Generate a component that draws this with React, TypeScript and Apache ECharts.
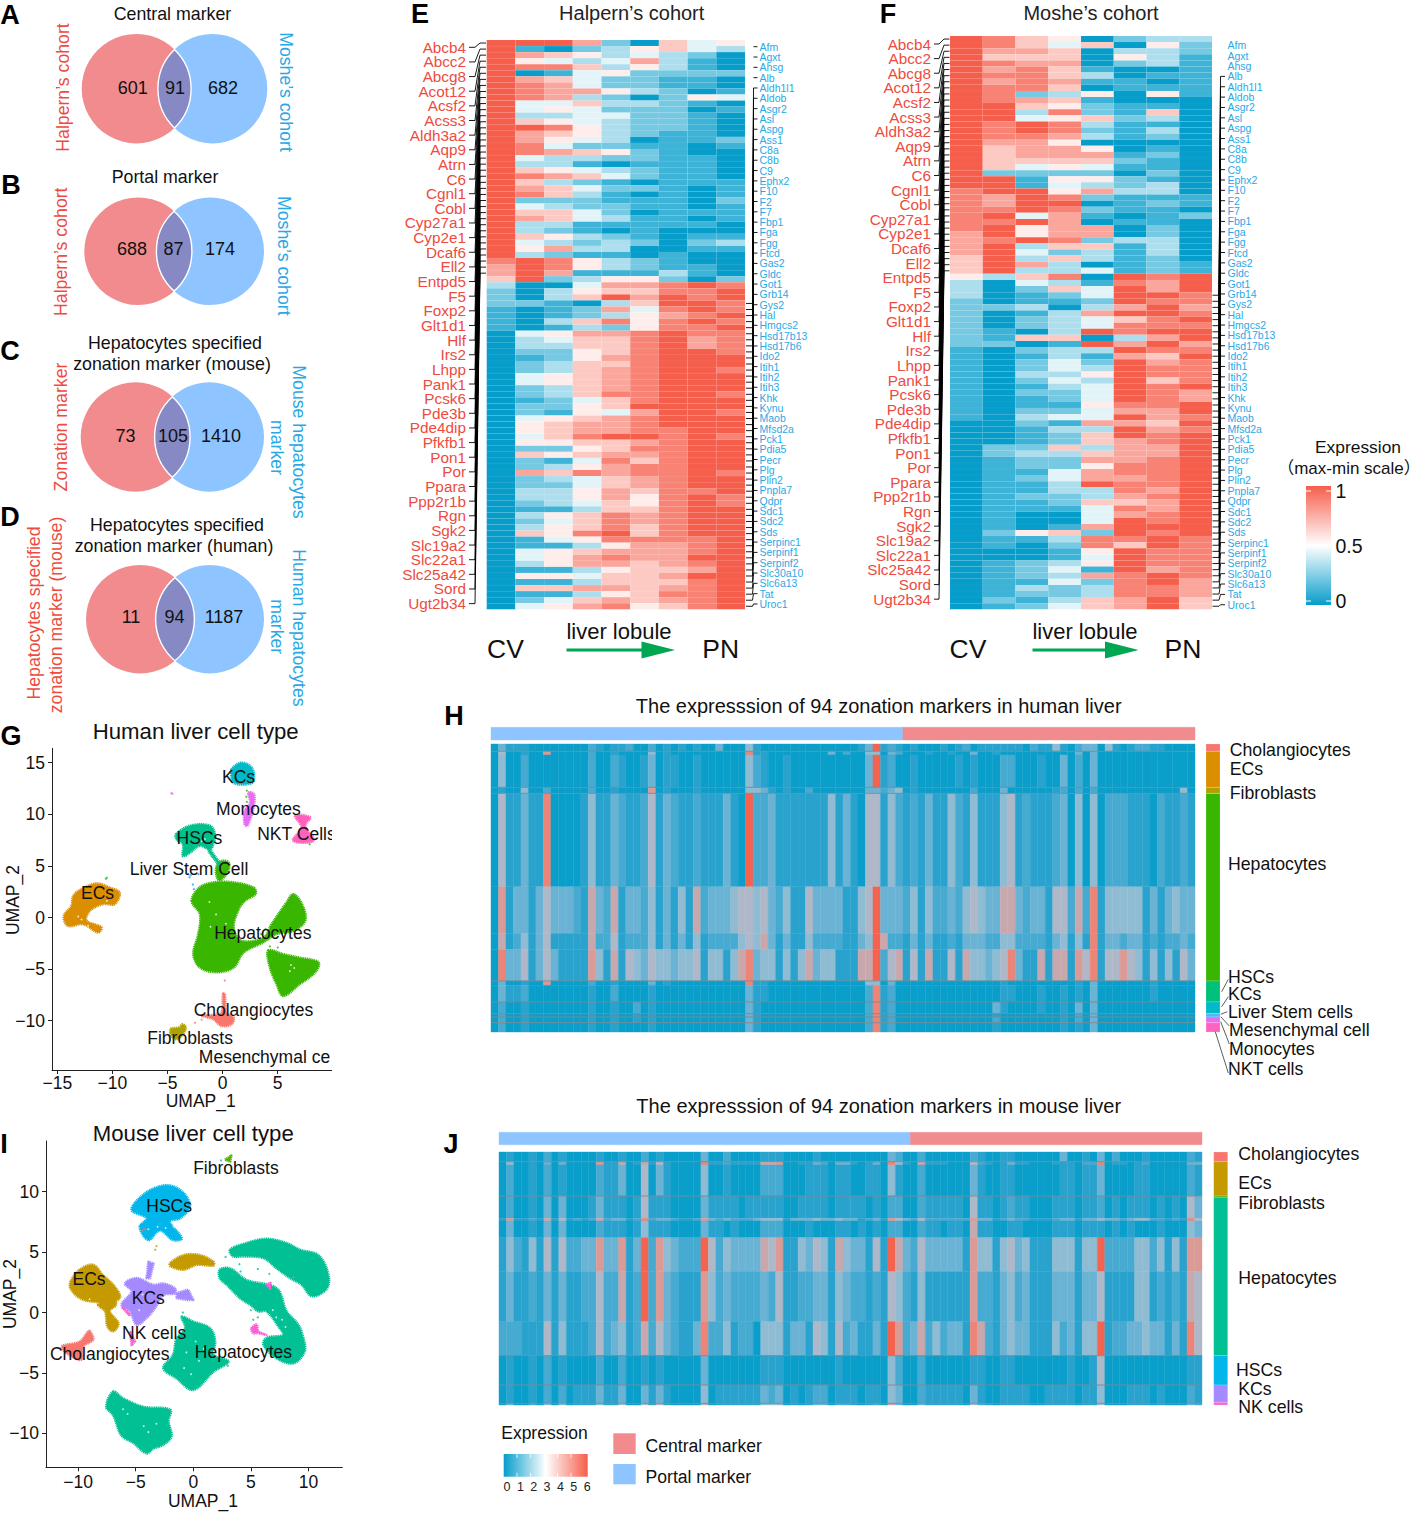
import React, { useEffect, useRef } from "react";
import * as echarts from "echarts";

const FONT = "'Liberation Sans', Arial, 'Noto Sans CJK SC', sans-serif";
const RED_TXT = "#EE4B40";
const BLUE_TXT = "#2AA8E6";
const VENN_RED = "#F28B8E";
const VENN_BLUE = "#8EC4FF";
const VENN_MID = "#8689C4";

// ---------------- Venn numbers
const vennA = ["601", "91", "682"];
const vennB = ["688", "87", "174"];
const vennC = ["73", "105", "1410"];
const vennD = ["11", "94", "1187"];

// ---------------- gene labels
const centralGenes = ["Abcb4","Abcc2","Abcg8","Acot12","Acsf2","Acss3","Aldh3a2","Aqp9","Atrn","C6","Cgnl1","Cobl","Cyp27a1","Cyp2e1","Dcaf6","Ell2","Entpd5","F5","Foxp2","Glt1d1","Hlf","Irs2","Lhpp","Pank1","Pcsk6","Pde3b","Pde4dip","Pfkfb1","Pon1","Por","Ppara","Ppp2r1b","Rgn","Sgk2","Slc19a2","Slc22a1","Slc25a42","Sord","Ugt2b34"];
const portalGenes = ["Afm","Agxt","Ahsg","Alb","Aldh1l1","Aldob","Asgr2","Asl","Aspg","Ass1","C8a","C8b","C9","Ephx2","F10","F2","F7","Fbp1","Fga","Fgg","Ftcd","Gas2","Gldc","Got1","Grb14","Gys2","Hal","Hmgcs2","Hsd17b13","Hsd17b6","Ido2","Itih1","Itih2","Itih3","Khk","Kynu","Maob","Mfsd2a","Pck1","Pdia5","Pecr","Plg","Plin2","Pnpla7","Qdpr","Sdc1","Sdc2","Sds","Serpinc1","Serpinf1","Serpinf2","Slc30a10","Slc6a13","Tat","Uroc1"];

// ---------------- panel E: 94 genes x 9 lobule layers, digit 0 (min) .. 9 (max)
const halpernRows = ["999720645","910235643","976534320","954347310","988635310","901452222","976422110","987422110","987753201","987320254","944633210","945422201","933442210","965432210","998532210","976532110","975430112","984221101","987652100","943322110","933101110","965432110","987642110","963210111","976422101","986310101","922211102","943221101","966420111","976431101","933111110","932101000","965321011","943232023","957330011","932110100","898532100","798532110","797111310","692355202",
"300477898","203566889","203697989","221036998","101274898","101235789","103685898","101325889","045778988","034668978","033668978","022568998","012578999","023668999","023678998","045678999","045678999","023678999","023688998","012468999","022569999","021547998","045678999","056778999","056778899","046899898","055667899","022568899","065677899","021486899","023578899","076878898","023467899","022467899","033576889","033575898","023465898","011366899","035687899","024687899","035686899","065896899","014588889","011357789","045677789","045787799","035776789","011356679","055466799","011366689","066776789","011356889","024676789","045785689"];

// ---------------- panel F: 94 genes x 8 lobule layers
const mosheRows = ["98650233","98646052","97760332","96660531","98770231","97861001","98863011","97871101","98860111","98235051","98761000","99652110","99382160","99456230","98983110","98982130","98873120","97750000","96775010","96777120","96666210","96454110","92222020","99155210","99143230","89957330","87982111","87990121","88982110","89471012","88970110","89577020","79577020","78982330","79366130","79423130","69363120","69730121","69334121","53680989",
"30431879","30264979","30124998","20112988","22303797","20137998","20234689","20234888","21039899","21660379","22019797","10233988","10131769","10242978","10243988","10335988","10243968","10134989","10224987","10124987","10115889","10224779","10344978","00217769","00133978","00126989","00126789","02263779","02336779","01227789","01225889","01147889","01247789","01139889","01133879","01223789","01126679","01114879","01004789","01004989","01017999","02562989","01138898","01028698","00015988","00014988","01235988","01241978","01237898","01142897","01323887","01223887","02136796","01246796"];

// ---------------- panel H: per cell-type band, digit per marker column (94 markers)
const hBandNames = ["Cholangiocytes","ECs-a","ECs-b","Fibroblasts","Hep-a","Hep-b","Hep-c","Hep-d","HSCs-a","HSCs-b","KCs","Liver Stem cells","Monocytes","NKT cells"];
const hBandCells = [22,11,97,18,280,140,48,94,13,50,35,10,17,28];
const hBandRows = [
"0311100000 0002101120 0201010100 3000410000 0000000001 3912101000 1012011111 1021141023 3041012211 0000",
"0500100700 0002001000 0401000000 0000811000 0000030200 4403200010 0100300100 0000000030 3000000000 0000",
"0400200000 0002002100 1301100100 0000421001 0000000000 3912001000 0010100022 0001003020 3000000000 0000",
"0100400200 0002001000 0701000100 0000443101 0020000000 3323401000 0000200030 0000012020 2000000000 0040",
"0511311800 0014113211 2513211211 1310922311 1111141310 5514212131 1421411145 1211123040 4022211102 1121",
"0713313533 3216326133 2413141623 3345545324 1153333114 5933324142 2324543366 3233155262 8144444131 3433",
"0612413511 1116225122 2413131412 2224546313 1142222113 4962213131 1213332244 2222134141 8133233121 2232",
"0833513531 1117416154 3544344514 4146834414 1463441116 6925615161 1516443458 3116166175 8155754141 4153",
"0300100700 0002001000 0301000000 0000811000 0000000000 4403000000 0000000010 0000000010 3000000010 0000",
"0311200000 0001002000 0100000000 0000311000 0000000000 2812000000 0000000011 0001001010 3000000010 0000",
"0200100000 0001001002 0100000000 0000310000 0000000000 2812000000 0000000310 0001001030 3000000000 0000",
"0200100000 0001001001 0100000000 0000310000 0000000000 2812000000 0000000100 0000001020 3000000000 0000",
"0200100000 0001001001 0100000000 0000310000 0000000000 2812000000 0000000200 0000001020 3000000000 0000",
"0200100000 0001001000 0100000000 0000310000 0000000000 2812000000 0000000100 0000001010 3000000000 0000",
];
const hSeparators = [22,130,148,710,773,808,818,835];
const hSideNames = ["Cholangiocytes","ECs","Fibroblasts","Hepatocytes","HSCs","KCs","Liver Stem cells","Monocytes","NKT cells"];
const hSideCells = [22,108,18,562,63,35,10,17,28];
const hSideColors = ["#F8766D","#DB8E00","#AEA200","#39B600","#00C17A","#00BAC8","#4DB8F0","#E76BF3","#FF63C0"];

// ---------------- panel J
const jBandNames = ["Cholangiocytes","ECs-a","ECs-b","Hep-a","Hep-b","Hep-c","Hep-d","Hep-e","Hep-f","HSCs","KCs","NK cells"];
const jBandCells = [29,10,93,67,8,50,102,150,102,88,55,5];
const jBandRows = [
"0100102010 0001001002 0100000300 2000011100 0010000000 0032002000 0002100110 0000030010 3020001000 0021",
"0400103030 0007116016 1510000811 2111166700 1132033101 3084106111 0005210131 1000111022 8011012000 0033",
"0200102010 0002113005 0310000400 1000022200 0111011001 1041002000 0003100110 0000011011 3000011000 0021",
"0200103030 0013111015 1110000311 1101111100 1111011110 1022002111 1105110121 1000111011 2010111010 1053",
"1711216151 2126233128 2332112732 3222344413 3343343312 3175325222 2227331232 2111233133 4332344221 2185",
"0300103030 0002111014 1110000311 0100022200 0100011010 1022002110 1106110011 0000111011 1010100010 0043",
"1421415152 2337337139 2743222952 4333365711 4354164331 5196325333 3317441453 4111444144 9222244241 4177",
"1311213131 1225226129 2732111742 3222232511 2233143221 2154214111 1117221342 3111333133 5111144121 2165",
"2221115141 1125234126 2532113822 4122044413 3154152311 3197236242 3318621343 3111423144 9122334331 3185",
"0100102010 0002002001 0100000300 0000011100 0000010000 0042002000 0001100110 0000001001 5000000000 0011",
"0100102020 1113113003 1310000401 1111132301 0122011101 1043002111 1103100111 1001111011 4000111010 0021",
"0300204040 1114115005 1510000601 1111144401 0133022101 2063003111 1105210111 1001111011 5000111010 0032",
];
const jSeparators = [29,132,611,699,754];
const jSideNames = ["Cholangiocytes","ECs","Fibroblasts","Hepatocytes","HSCs","KCs","NK cells"];
const jSideCells = [29,103,4,475,88,52,8];
const jSideColors = ["#F8766D","#C49A00","#53B400","#00C094","#00B6EB","#A58AFF","#FB61D7"];

const markerCounts = [55, 39]; // portal, central

// ---------------- UMAP outlines, in UMAP units
type Blob = { c: string; p: number[][] };
const humanClusters: Blob[] = [
  { c: "#39B600", p: [[-2.8,1.6],[-2.1,2.9],[-0.85,3.4],[1,3.4],[2.8,2.9],[3,2.3],[2,1.6],[1.4,0.65],[1,-1],[1.7,-2.25],[3.7,-1.95],[4.45,-0.65],[5.8,1.45],[6.4,2.25],[7.2,1.3],[7.5,-0.3],[6.4,-1.3],[4.9,-1.6],[3.7,-2.4],[1.9,-3.4],[1,-4.85],[-0.55,-5.3],[-2.05,-4.85],[-2.65,-3.55],[-2.2,-1.6],[-2.05,0.3]] },
  { c: "#39B600", p: [[4.15,-3.2],[5.5,-3.55],[7,-3.9],[8.7,-4.35],[8.4,-5.3],[7,-6.45],[5.5,-7.6],[4.9,-6.45],[4.3,-4.85]] },
  { c: "#39B600", p: [[-0.4,5.3],[0.2,5.5],[0.6,5.2],[0.4,4.3],[-0.3,3.6],[-0.6,4.4]] },
  { c: "#DB8E00", p: [[-12.8,2.75],[-11.45,3.3],[-10.25,2.9],[-9.35,2.4],[-9.8,1.3],[-10.85,1.3],[-12.05,0.65],[-12.35,-0.3],[-11,-0.95],[-11.3,-1.45],[-12.65,-0.65],[-14.05,-0.8],[-14.4,0.15],[-13.7,1.15],[-13.55,2.1]] },
  { c: "#00C08B", p: [[-4.2,8.1],[-2.95,8.9],[-1.15,8.9],[-0.7,8.1],[-0.85,7.1],[-1.15,6.6],[-2.05,6.95],[-2.95,6.3],[-3.6,5.95],[-3.6,7.1],[-4.2,7.6]] },
  { c: "#00C08B", p: [[-1.15,6.6],[-0.4,5.5],[-0.1,4.85],[-0.4,5.15],[-1.3,6.45]] },
  { c: "#00BAC8", p: [[0.8,14.35],[1.7,15],[2.65,14.5],[2.8,13.2],[2.05,12.9],[1,13.05],[0.8,13.7]] },
  { c: "#E76BF3", p: [[2.35,12.1],[2.85,11.95],[2.8,10.65],[2.25,8.9],[2,9.05],[2,10.35],[2.5,11.15]] },
  { c: "#FF62BC", p: [[6.6,9.85],[7.95,9.7],[7.5,8.9],[8.25,7.45],[6.4,7.45],[7.15,8.75]] },
  { c: "#F8766D", p: [[0.05,-7.4],[0.2,-7.4],[0.35,-9.2],[1,-9.7],[0.8,-10.35],[-0.1,-10.5],[-0.85,-9.85],[-1.9,-9.5],[-0.85,-9.45],[-0.1,-9.2]] },
  { c: "#AEA200", p: [[-4.7,-10.8],[-3.9,-10.65],[-3.65,-10.35],[-3.35,-10.65],[-3.6,-11.3],[-4.2,-11.8],[-4.65,-11.45]] },
];
const humanDots: (string | number)[][] = [
  [-4.65,12.05,"#E76BF3"],[-4.55,12.0,"#E76BF3"],[3.35,-13.2,"#7F80FF"],[-10.5,3.85,"#00C08B"],[-10.6,3.75,"#39B600"],
  [-3.1,4.2,"#00A9FF"],[-3,3.9,"#00A9FF"],[-2.9,4.1,"#00A9FF"],[-2.7,3.2,"#00A9FF"],[-2.6,2.75,"#00A9FF"],[-2.2,4.2,"#00A9FF"],
  [2.2,12.3,"#39B600"],[2.15,11.7,"#39B600"],[2.2,11.2,"#39B600"],[0.2,-6.1,"#F8766D"],[7.9,7.1,"#39B600"],
  [-1.9,-9.9,"#F8766D"],[-2.5,-10.2,"#F8766D"],[5,-2.9,"#39B600"],[4.3,-2.8,"#39B600"],[3.9,-1.1,"#39B600"],[3.5,-1.6,"#39B600"],
];
const humanHoles: number[][] = [[-11,1.9],[-10.5,1.6],[-12.8,-0.2],[-13.1,0.1],[-11.7,0.3],[-12.2,-0.8],[6.2,-4.6],[6.5,-4.9],[6.1,-5.2],[-1.2,1.5],[-0.6,0.3],[0.3,-0.6],[-1.1,-0.9],[-1.6,7.6],[-1.9,7.4]];
const humanLabels: (string | number)[][] = [["KCs",1.45,13.6],["Monocytes",3.25,10.5],["NKT Cells",6.7,8.1],["ECs",-11.35,2.4],["HSCs",-2.1,7.7],["Liver Stem Cell",-3.05,4.7],["Hepatocytes",3.65,-1.55],["Cholangiocytes",2.8,-9],["Fibroblasts",-2.95,-11.65],["Mesenchymal ce",3.8,-13.5]];

const mouseClusters: Blob[] = [
  { c: "#00C094", p: [[3.2,5.2],[4.6,5.75],[6.35,6.1],[8.1,5.75],[9.25,5.2],[10.85,4.75],[11.7,3.25],[11.6,2],[10.3,1.35],[9.4,2.3],[8.4,2.85],[7.25,3.65],[6.1,4.5],[4.35,4.65],[3.45,4.65]] },
  { c: "#00C094", p: [[2.3,3.55],[3.2,3.65],[4.6,2.7],[7.25,2],[8.1,0.1],[9.1,-1],[9.55,-2.1],[9.65,-3.25],[8.7,-4.2],[7.25,-3.8],[6.1,-2.7],[6.35,-2.1],[7.8,-1.85],[7.5,-1.3],[6.35,0.1],[5.65,0.1],[5,0.6],[4.05,1.2],[2.9,2.3],[2.3,2.85]] },
  { c: "#00C094", p: [[-1,-0.35],[0,-0.75],[1.45,-1.3],[1.9,-2.4],[1.75,-3.5],[3.05,-4.05],[1.75,-4.9],[0,-6.4],[-1.45,-5.45],[-2.6,-4.6],[-1.75,-3.5],[-1.45,-2.15],[-0.7,-1.3]] },
  { c: "#00C094", p: [[-6.95,-6.55],[-6.1,-7.1],[-4.35,-7.8],[-2,-8.05],[-2.15,-9],[-1.9,-10.25],[-2.6,-10.95],[-3.45,-11.25],[-4.05,-11.65],[-5.2,-10.8],[-6.25,-10.15],[-6.95,-8.5],[-7.55,-7.8]] },
  { c: "#00B6EB", p: [[-5.35,8.5],[-4.35,9.75],[-2.9,10.45],[-1.75,10.45],[-0.7,9.75],[-0.3,8.75],[-1.15,7.8],[-2.05,7.55],[-1,6.15],[-1.75,6],[-2.9,6.8],[-3.9,6],[-4.65,7.1],[-4.05,7.8]] },
  { c: "#C49A00", p: [[-10.65,2.55],[-9.85,3.55],[-8.7,3.95],[-7.85,3.1],[-6.95,2.3],[-6.35,1.3],[-6.95,0.9],[-8.7,0.9],[-9.85,1.2],[-10.65,2]] },
  { c: "#C49A00", p: [[-8.25,0.65],[-6.95,1.05],[-6.7,0.65],[-7.25,0.1],[-6.5,-0.9],[-6.95,-1.55],[-7.45,-1.15],[-7.65,0.1]] },
  { c: "#C49A00", p: [[-2,4.1],[-0.85,4.75],[0.6,4.75],[1.75,4.2],[1.75,3.9],[0.3,3.95],[-0.85,3.55],[-2,3.85]] },
  { c: "#A58AFF", p: [[-5.93,2.4],[-4.92,2.85],[-3.47,2.3],[-2.6,2.4],[-1.59,2],[-1.59,1.6],[-2.6,1.45],[-3.33,0.35],[-4.05,-0.45],[-4.92,-1],[-5.5,0.1],[-6.22,0.65],[-5.35,1.75]] },
  { c: "#A58AFF", p: [[-1.45,1.6],[-0.45,1.9],[0,1.05],[-0.6,1.05],[-1.45,1.2]] },
  { c: "#A58AFF", p: [[-4.05,2.85],[-3.9,4.2],[-3.45,4.05],[-3.75,2.85]] },
  { c: "#F8766D", p: [[-11.4,-2.8],[-9.85,-2.4],[-9.1,-1.55],[-8.95,-1.55],[-8.7,-2.25],[-9.55,-2.8],[-9.7,-3.9],[-11,-3.35]] },
  { c: "#53B400", p: [[2.75,12.65],[3.3,13],[3.2,12.5]] },
  { c: "#FB61D7", p: [[5.05,-1.3],[5.5,-1],[5.65,-1.55],[6.35,-1.85],[5.65,-1.7],[5.2,-1.7]] },
  { c: "#FB61D7", p: [[6.35,2.3],[6.7,2.45],[6.65,2]] },
  { c: "#FB61D7", p: [[-5.5,-1.55],[-5.05,-2.4],[-5.35,-2.7]] },
  { c: "#FB61D7", p: [[-6.15,0.4],[-5.55,-0.2],[-5.8,0.2]] },
];
const mouseDots: (string | number)[][] = [
  [-4.2,6.9,"#F8766D"],[-4.4,6.8,"#F8766D"],[-3.2,5.5,"#C49A00"],[-3.3,5.2,"#C49A00"],[2.4,12.6,"#00B6EB"],
  [8.7,2.9,"#FB61D7"],[4.2,1.2,"#00C094"],[5,0.2,"#00C094"],[5.6,-0.4,"#00C094"],[5.2,-0.6,"#00C094"],[4.8,1.3,"#00C094"],[4.1,3.4,"#00C094"],[2.8,4.6,"#00C094"],[4,4,"#00C094"],[6.6,3.2,"#00C094"],[5.6,3.6,"#00C094"],[3,-4.4,"#00C094"],[-0.9,0,"#00C094"],
];
const mouseHoles: number[][] = [[-3.9,6.9],[-3.1,7.1],[-2.4,7],[-1.7,7.1],[-6.1,-8],[-5.7,-8.4],[-4.3,-9.4],[-3.9,-9.9],[-3.2,-9.2],[-0.6,-3.3],[0.5,-4],[0.2,-2.4],[-0.8,-4.6],[-0.2,-5.1],[0.9,-3],[7.2,-0.4],[7.7,-0.6],[6.9,0.2],[8,-1.2],[7,-1],[-9,1.1],[-4.4,1.5],[-3.8,0.8],[-4.7,0.2]];
const mouseLabels: (string | number)[][] = [["Fibroblasts",3.7,12],["HSCs",-2.1,8.85],["ECs",-9.05,2.8],["KCs",-3.9,1.2],["NK cells",-3.4,-1.7],["Cholangiocytes",-7.25,-3.4],["Hepatocytes",4.35,-3.25]];

// ---------------- colours
const BLUE = "#069DCB", RED = "#F65E4C";
const heatColor = (v: number) => {
  const t = v / 9;
  return t < 0.5
    ? echarts.color.lerp(t * 2, [BLUE, "#FFFFFF"])
    : echarts.color.lerp((t - 0.5) * 2, ["#FFFFFF", RED]);
};
const H_COLORS = ["#0A9FCB", "#29A3CE", "#46AAD1", "#6AB3D4", "#8FBCD3", "#AEB8C8", "#C8A8AD", "#DC9A96", "#EC8577", "#F4634F"];

const parseRow = (s: string) => s.replace(/ /g, "").split("").map(Number);

// custom-series helpers
const cellRender = (colorOf: (v: number) => string, seam: string | null) => (_: any, api: any) => {
  const a = api.coord([api.value(0), api.value(2)]);
  const b = api.coord([api.value(1), api.value(3)]);
  const fill = colorOf(api.value(4));
  return {
    type: "rect",
    shape: { x: a[0], y: a[1], width: b[0] - a[0], height: b[1] - a[1] },
    style: { fill, stroke: seam || fill, lineWidth: seam ? 0.3 : 0.4 },
  };
};

const rowsData = (rows: string[]) => {
  const out: number[][] = [];
  rows.forEach((r, i) => parseRow(r).forEach((v, j) => out.push([j, j + 1, i, i + 1, v])));
  return out;
};
const bandsData = (rows: string[], cells: number[]) => {
  const out: number[][] = [];
  let y = 0;
  rows.forEach((r, i) => {
    parseRow(r).forEach((v, j) => out.push([j, j + 1, y, y + cells[i], v]));
    y += cells[i];
  });
  return out;
};
const stackData = (cells: number[]) => {
  const out: number[][] = [];
  let y = 0;
  cells.forEach((n, i) => { out.push([0, 1, y, y + n, i]); y += n; });
  return out;
};
const sum = (a: number[]) => a.reduce((p, c) => p + c, 0);

const txt = (text: string, x: number, y: number, size: number, o: any = {}) => ({
  type: "text", x, y, rotation: o.rot || 0, silent: true, z: o.z || 20,
  style: {
    text, fill: o.color || "#111", font: `${o.weight || "normal"} ${size}px ${FONT}`,
    align: o.align || "center", textAlign: o.align || "center",
    verticalAlign: "middle", textVerticalAlign: "middle",
  },
});

type VennGeom = { l: number; r: number; cy: number; rad: number };
const vennGeoms: VennGeom[] = [
  { l: 136.4, r: 212.6, cy: 88.7, rad: 54.7 },
  { l: 138.1, r: 210.2, cy: 251.2, rad: 53.8 },
  { l: 135.4, r: 209.3, cy: 437, rad: 54.7 },
  { l: 140.2, r: 209.8, cy: 619.2, rad: 54.2 },
];
vennGeoms.forEach((g, i) => {
  const m = (g.l + g.r) / 2;
  const h = Math.sqrt(g.rad * g.rad - ((g.r - g.l) / 2) ** 2);
  const d = `M${m} ${g.cy - h}A${g.rad} ${g.rad} 0 0 1 ${m} ${g.cy + h}A${g.rad} ${g.rad} 0 0 1 ${m} ${g.cy - h}Z`;
  echarts.graphic.registerShape("vennLens" + i, echarts.graphic.extendPath(d, {}));
});

const venn = (i: number) => {
  const g = vennGeoms[i];
  return [
    { type: "circle", silent: true, z: 5, shape: { cx: g.l, cy: g.cy, r: g.rad }, style: { fill: VENN_RED } },
    { type: "circle", silent: true, z: 5, shape: { cx: g.r, cy: g.cy, r: g.rad }, style: { fill: VENN_BLUE } },
    { type: "vennLens" + i, silent: true, z: 6, x: 0, y: 0, style: { fill: VENN_MID, stroke: "#fff", lineWidth: 1.4 } },
  ];
};

const geneConnectors = (o: {
  labels: string[]; firstRow: number; top: number; rowH: number; labY0: number; labDy: number;
  x: number[]; skip: number; tickOnly: boolean;
}) => {
  const out: any[] = [];
  o.labels.forEach((_, i) => {
    const ly = o.labY0 + i * o.labDy;
    const ry = o.top + (o.firstRow + i + 0.5) * o.rowH;
    if (i < o.skip) {
      if (o.tickOnly) out.push({ type: "line", silent: true, z: 8, shape: { x1: o.x[2], y1: ly, x2: o.x[3], y2: ly }, style: { stroke: "#000", lineWidth: 0.9 } });
      return;
    }
    out.push({
      type: "polyline", silent: true, z: 8,
      shape: { points: [[o.x[0], ry], [o.x[1], ry], [o.x[2], ly], [o.x[3], ly]] },
      style: { stroke: "#000", lineWidth: 0.9, fill: "none" },
    });
  });
  return out;
};

const umapAxes = (gridIndex: number, xr: number[], yr: number[], xt: number[], yt: number[], xMargin: number) => {
  const common = {
    type: "value", gridIndex, splitLine: { show: false },
    axisLine: { show: true, onZero: false, lineStyle: { color: "#222", width: 1 } },
    axisTick: { show: true, length: 4, lineStyle: { color: "#222" } },
  };
  const fmt = (v: number) => String(v).replace("-", "\u2212");
  return {
    x: { ...common, min: xr[0], max: xr[1], axisTick: { ...common.axisTick, customValues: xt }, axisLabel: { customValues: xt, formatter: fmt, fontSize: 17.5, color: "#111", margin: xMargin, fontFamily: FONT } },
    y: { ...common, min: yr[0], max: yr[1], axisTick: { ...common.axisTick, customValues: yt }, axisLabel: { customValues: yt, formatter: fmt, fontSize: 17.5, color: "#111", margin: 7, fontFamily: FONT } },
  };
};

const umapSeries = (idx: number, clusters: Blob[], dots: any[], holes: number[][], labels: any[]) => [
  {
    type: "custom", xAxisIndex: idx, yAxisIndex: idx, silent: true, clip: true, z: 3,
    data: clusters.map((_, i) => [i, 0]),
    renderItem: (_: any, api: any) => {
      const b = clusters[api.value(0)];
      return {
        type: "polygon",
        shape: { points: b.p.map((q) => api.coord(q)), smooth: b.p.length > 5 ? 0.35 : 0 },
        style: { fill: b.c, stroke: b.c, lineWidth: 2.6, lineDash: [1.2, 0.6], lineJoin: "round" },
      };
    },
  },
  {
    type: "scatter", xAxisIndex: idx, yAxisIndex: idx, silent: true, z: 4, symbolSize: 2.2,
    data: dots.map((d) => ({ value: [d[0], d[1]], itemStyle: { color: d[2] } })),
  },
  {
    type: "scatter", xAxisIndex: idx, yAxisIndex: idx, silent: true, z: 4, symbolSize: 1.8,
    itemStyle: { color: "#fff" }, data: holes,
  },
  {
    type: "custom", xAxisIndex: idx, yAxisIndex: idx, silent: true, clip: true, z: 6,
    data: labels.map((_, i) => [i, 0]),
    renderItem: (_: any, api: any) => {
      const l = labels[api.value(0)];
      const p = api.coord([l[1], l[2]]);
      return {
        type: "text", x: p[0], y: p[1],
        style: { text: l[0], fill: "#111", font: `17.5px ${FONT}`, align: "center", verticalAlign: "middle" },
      };
    },
  },
];

export default function App() {
  const ref = useRef<HTMLDivElement>(null);
  useEffect(() => {
    const chart = echarts.init(ref.current!, undefined, { renderer: "svg" });

    const box = (left: number, right: number, top: number, bottom: number) => ({ left, top, width: right - left, height: bottom - top, containLabel: false });
    const hidden = (gridIndex: number, min: number, max: number, inverse = false) => ({ type: "value", gridIndex, min, max, inverse, show: false });

    const gU = umapAxes(0, [-15.48, 9.9], [-14.78, 16.4], [-15, -10, -5, 0, 5], [-10, -5, 0, 5, 10, 15], 4);
    const iU = umapAxes(1, [-12.78, 12.93], [-12.81, 14.2], [-10, -5, 0, 5, 10], [-10, -5, 0, 5, 10], 6);

    const grids = [
      box(52, 331.7, 748.3, 1070),
      box(46, 342.3, 1141, 1467.3),
      box(486.7, 745, 40, 609.3),   // E
      box(950, 1212, 36, 609.3),    // F
      box(491, 1195, 744, 1032),    // H
      box(499, 1202, 1152, 1405),   // J
      box(1206, 1220, 744, 1032),   // H side
      box(1213.7, 1227.7, 1152, 1405), // J side
      box(491, 1195, 727.3, 740),   // H top
      box(499, 1202, 1132.3, 1144.7), // J top
    ];

    const hTotal = sum(hBandCells), jTotal = sum(jBandCells);
    const xAxis: any[] = [gU.x, iU.x, hidden(2, 0, 9), hidden(3, 0, 8), hidden(4, 0, 94), hidden(5, 0, 94), hidden(6, 0, 1), hidden(7, 0, 1), hidden(8, 0, 94), hidden(9, 0, 94)];
    const yAxis: any[] = [gU.y, iU.y, hidden(2, 0, 94, true), hidden(3, 0, 94, true), hidden(4, 0, hTotal, true), hidden(5, 0, jTotal, true), hidden(6, 0, hTotal, true), hidden(7, 0, jTotal, true), hidden(8, 0, 1), hidden(9, 0, 1)];

    const cells = (i: number, data: number[][], color: (v: number) => string, seam: string | null) => ({
      type: "custom", xAxisIndex: i, yAxisIndex: i, silent: true, clip: false, data, renderItem: cellRender(color, seam),
    });
    const seps = (i: number, vals: number[]) => ({
      type: "custom", xAxisIndex: i, yAxisIndex: i, silent: true, clip: false, z: 5, data: vals.map((v) => [v]),
      renderItem: (_: any, api: any) => {
        const a = api.coord([0, api.value(0)]), b = api.coord([94, api.value(0)]);
        return { type: "line", shape: { x1: a[0], y1: a[1], x2: b[0], y2: b[1] }, style: { stroke: "#7E8A92", lineWidth: 0.9 } };
      },
    });
    const topColors = [VENN_BLUE, VENN_RED];
    const topData = [[0, markerCounts[0], 0, 1, 0], [markerCounts[0], markerCounts[0] + markerCounts[1], 0, 1, 1]];

    const series: any[] = [
      ...umapSeries(0, humanClusters, humanDots, humanHoles, humanLabels),
      ...umapSeries(1, mouseClusters, mouseDots, mouseHoles, mouseLabels),
      cells(2, rowsData(halpernRows), heatColor, "rgba(255,255,255,0.12)"),
      cells(3, rowsData(mosheRows), heatColor, "rgba(255,255,255,0.12)"),
      cells(4, bandsData(hBandRows, hBandCells), (v) => H_COLORS[v], null),
      cells(5, bandsData(jBandRows, jBandCells), (v) => H_COLORS[v], null),
      seps(4, hSeparators),
      seps(5, jSeparators),
      cells(6, stackData(hSideCells), (v) => hSideColors[v], "rgba(255,255,255,0.6)"),
      cells(7, stackData(jSideCells), (v) => jSideColors[v], "rgba(255,255,255,0.6)"),
      cells(8, topData, (v) => topColors[v], null),
      cells(9, topData, (v) => topColors[v], null),
    ];

    const PI2 = Math.PI / 2;
    const graphic: any[] = [
      ...venn(0), ...venn(1), ...venn(2), ...venn(3),
      txt(vennA[0], 132.7, 88, 18), txt(vennA[1], 175, 88, 18), txt(vennA[2], 223, 88, 18),
      txt(vennB[0], 132, 249, 18), txt(vennB[1], 173.5, 249, 18), txt(vennB[2], 220, 249, 18),
      txt(vennC[0], 125.5, 435.5, 18), txt(vennC[1], 173, 435.5, 18), txt(vennC[2], 221, 435.5, 18),
      txt(vennD[0], 131, 617, 18), txt(vennD[1], 174.5, 617, 18), txt(vennD[2], 224, 617, 18),
      txt("Central marker", 172.5, 14, 17.8), txt("Portal marker", 165, 177, 17.8),
      txt("Hepatocytes specified", 175, 343, 17.8), txt("zonation marker (mouse)", 172, 364, 17.8),
      txt("Hepatocytes specified", 177, 525, 17.8), txt("zonation marker (human)", 174, 546, 17.8),
      txt("Halpern\u2019s cohort", 63, 87.5, 17.7, { rot: PI2, color: RED_TXT }),
      txt("Moshe\u2019s cohort", 286, 92, 17.7, { rot: -PI2, color: BLUE_TXT }),
      txt("Halpern\u2019s cohort", 61, 251.7, 17.7, { rot: PI2, color: RED_TXT }),
      txt("Moshe\u2019s cohort", 284, 255.8, 17.7, { rot: -PI2, color: BLUE_TXT }),
      txt("Zonation marker", 61, 427, 17.7, { rot: PI2, color: RED_TXT }),
      txt("Mouse hepatocytes", 299, 442, 17.7, { rot: -PI2, color: BLUE_TXT }),
      txt("marker", 277, 447.5, 17.7, { rot: -PI2, color: BLUE_TXT }),
      txt("Hepatocytes specified", 34, 613, 17.7, { rot: PI2, color: RED_TXT }),
      txt("zonation marker (mouse)", 56, 615, 17.7, { rot: PI2, color: RED_TXT }),
      txt("Human hepatocytes", 299, 628, 17.7, { rot: -PI2, color: BLUE_TXT }),
      txt("marker", 277, 626.7, 17.7, { rot: -PI2, color: BLUE_TXT }),
      // panel letters
      ...[["A", 10, 15], ["B", 11, 185], ["C", 10, 351], ["D", 10, 517], ["E", 420, 14], ["F", 888, 14], ["G", 11, 736], ["H", 454, 716], ["I", 4, 1144], ["J", 451, 1144]].map((l: any) =>
        txt(l[0], l[1], l[2], 27, { weight: "bold", color: "#000" })),
      // E / F headings
      txt("Halpern\u2019s cohort", 631.7, 13, 20, { color: "#222" }),
      txt("Moshe\u2019s cohort", 1091, 13, 20, { color: "#222" }),
      // gene labels
      ...centralGenes.map((g, i) => txt(g, 466, 47.3 + i * 14.64, 15.3, { align: "right", color: RED_TXT })),
      ...portalGenes.map((g, i) => txt(g, 759.5, 46.7 + i * 10.32, 10.5, { align: "left", color: BLUE_TXT })),
      ...centralGenes.map((g, i) => txt(g, 931, 44 + i * 14.61, 15.3, { align: "right", color: RED_TXT })),
      ...portalGenes.map((g, i) => txt(g, 1227.5, 45.3 + i * 10.36, 10.5, { align: "left", color: BLUE_TXT })),
      ...geneConnectors({ labels: centralGenes, firstRow: 0, top: 40, rowH: 569.3 / 94, labY0: 47.3, labDy: 14.64, x: [486, 480, 475, 469], skip: 0, tickOnly: false }),
      ...geneConnectors({ labels: portalGenes, firstRow: 39, top: 40, rowH: 569.3 / 94, labY0: 46.7, labDy: 10.32, x: [746, 752.5, 753.5, 757.5], skip: 4, tickOnly: true }),
      ...geneConnectors({ labels: centralGenes, firstRow: 0, top: 36, rowH: 573.3 / 94, labY0: 44, labDy: 14.61, x: [949.5, 944, 939, 934], skip: 0, tickOnly: false }),
      ...geneConnectors({ labels: portalGenes, firstRow: 39, top: 36, rowH: 573.3 / 94, labY0: 45.3, labDy: 10.36, x: [1212.5, 1219, 1220.5, 1225], skip: 3, tickOnly: false }),
      // lobule captions
      txt("CV", 505.5, 649, 26.5), txt("PN", 720.7, 649, 26.5), txt("liver lobule", 619, 631, 22),
      txt("CV", 968, 649, 26.5), txt("PN", 1183, 649, 26.5), txt("liver lobule", 1085, 631, 22),
      { type: "rect", silent: true, z: 10, shape: { x: 566.5, y: 648.5, width: 76, height: 3 }, style: { fill: "#00A651" } },
      { type: "polygon", silent: true, z: 10, shape: { points: [[641.5, 641.5], [675, 650], [641.5, 658.5]] }, style: { fill: "#00A651" } },
      { type: "rect", silent: true, z: 10, shape: { x: 1032.5, y: 648.5, width: 73, height: 3 }, style: { fill: "#00A651" } },
      { type: "polygon", silent: true, z: 10, shape: { points: [[1105, 641.5], [1138.5, 650], [1105, 658.5]] }, style: { fill: "#00A651" } },
      // max-min legend
      txt("Expression", 1358, 447, 17.4), txt("\uFF08max-min scale\uFF09", 1349, 468, 17),
      {
        type: "rect", silent: true, z: 10, shape: { x: 1306, y: 486, width: 25, height: 119 },
        style: { fill: new echarts.graphic.LinearGradient(0, 0, 0, 1, [{ offset: 0, color: RED }, { offset: 0.5, color: "#fff" }, { offset: 1, color: BLUE }]) },
      },
      ...[491, 601].flatMap((y) => [1306, 1326].map((x) => ({ type: "rect", silent: true, z: 11, shape: { x, y: y - 0.5, width: 5, height: 1 }, style: { fill: "#fff" } }))),
      txt("1", 1341, 491, 19.5), txt("0.5", 1349, 546, 19.5), txt("0", 1341, 601, 19.5),
      // heatmap titles
      txt("The expresssion of 94 zonation markers in human liver", 878.7, 705.7, 20, { color: "#111" }),
      txt("The expresssion of 94 zonation markers in mouse liver", 878.7, 1105.7, 20, { color: "#111" }),
      // UMAP titles
      txt("Human liver cell type", 195.7, 731.7, 22.2), txt("Mouse liver cell type", 193.3, 1133.3, 22.2),
      txt("UMAP_1", 200.7, 1101, 17.5), txt("UMAP_2", 12.7, 900, 17.5, { rot: PI2 }),
      txt("UMAP_1", 203, 1501, 17.5), txt("UMAP_2", 10, 1294, 17.5, { rot: PI2 }),
      // H side labels
      txt(hSideNames[0], 1229.7, 750, 17.7, { align: "left" }), txt(hSideNames[1], 1229.7, 769.3, 17.7, { align: "left" }),
      txt(hSideNames[2], 1229.7, 792.7, 17.7, { align: "left" }), txt(hSideNames[3], 1228, 864, 17.7, { align: "left" }),
      txt(hSideNames[4], 1228, 976.7, 17.7, { align: "left" }), txt(hSideNames[5], 1228, 994.3, 17.7, { align: "left" }),
      txt(hSideNames[6], 1228, 1012.3, 17.7, { align: "left" }), txt("Mesenchymal cell", 1229, 1030, 17.7, { align: "left" }),
      txt(hSideNames[7], 1229, 1049.3, 17.7, { align: "left" }), txt(hSideNames[8], 1228, 1069, 17.7, { align: "left" }),
      ...[[1221.7, 991.7, 1228.3, 979.3], [1221.7, 1006.7, 1228.3, 996.7], [1220.7, 1014.3, 1227.3, 1011.7], [1220.7, 1016.7, 1229.3, 1026], [1220.7, 1021.7, 1229.3, 1044], [1215.3, 1031.7, 1228.3, 1073]].map((l) => ({
        type: "line", silent: true, z: 9, shape: { x1: l[0], y1: l[1], x2: l[2], y2: l[3] }, style: { stroke: "#333", lineWidth: 0.8 },
      })),
      // J side labels
      txt(jSideNames[0], 1238.3, 1154, 17.7, { align: "left" }), txt(jSideNames[1], 1238.3, 1182.7, 17.7, { align: "left" }),
      txt(jSideNames[2], 1238.3, 1202.7, 17.7, { align: "left" }), txt(jSideNames[3], 1238.3, 1278.3, 17.7, { align: "left" }),
      txt(jSideNames[4], 1236, 1370, 17.7, { align: "left" }), txt(jSideNames[5], 1238.3, 1388.7, 17.7, { align: "left" }),
      txt(jSideNames[6], 1238.3, 1406.7, 17.7, { align: "left" }),
      // J legend
      txt("Expression", 544.5, 1433, 17.5),
      {
        type: "rect", silent: true, z: 10, shape: { x: 503.7, y: 1454, width: 84, height: 22.7 },
        style: { fill: new echarts.graphic.LinearGradient(0, 0, 1, 0, [{ offset: 0, color: BLUE }, { offset: 0.5, color: "#fff" }, { offset: 1, color: RED }]) },
      },
      ...[517, 530.7, 544, 557.5, 571].flatMap((x) => [
        { type: "rect", silent: true, z: 11, shape: { x: x - 0.4, y: 1454, width: 0.8, height: 4 }, style: { fill: "#fff" } },
        { type: "rect", silent: true, z: 11, shape: { x: x - 0.4, y: 1472.7, width: 0.8, height: 4 }, style: { fill: "#fff" } },
      ]),
      ...["0", "1", "2", "3", "4", "5", "6"].map((s, i) => txt(s, 507 + i * 13.35, 1486.7, 12.5, { color: "#222" })),
      { type: "rect", silent: true, z: 10, shape: { x: 613.3, y: 1433.3, width: 22.4, height: 20.7 }, style: { fill: VENN_RED } },
      { type: "rect", silent: true, z: 10, shape: { x: 613.3, y: 1464, width: 22.4, height: 20.3 }, style: { fill: VENN_BLUE } },
      txt("Central marker", 645.5, 1445.7, 17.6, { align: "left" }),
      txt("Portal marker", 645.5, 1476.7, 17.6, { align: "left" }),
    ];

    chart.setOption({
      animation: false,
      backgroundColor: "#fff",
      textStyle: { fontFamily: FONT },
      grid: grids, xAxis, yAxis, series, graphic,
    });
    return () => chart.dispose();
  }, []);
  return <div ref={ref} style={{ position: "absolute", left: 0, top: 0, width: 1418, height: 1513 }} />;
}
